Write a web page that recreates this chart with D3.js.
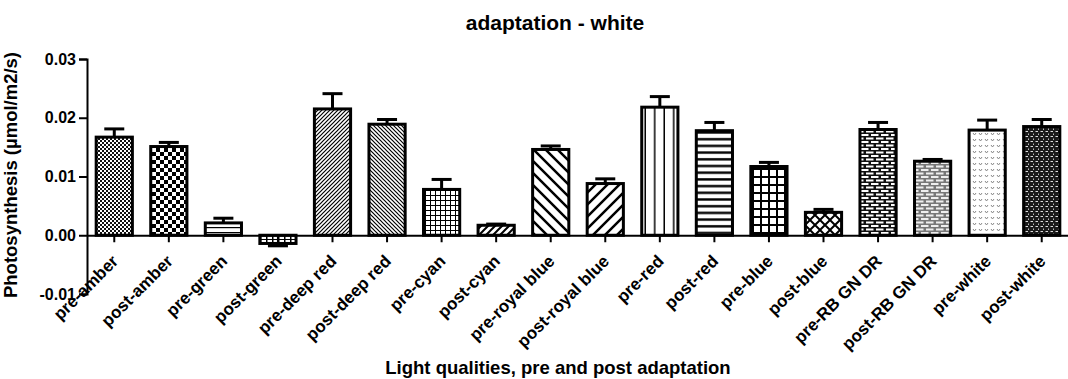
<!DOCTYPE html>
<html>
<head>
<meta charset="utf-8">
<script src="https://cdn.jsdelivr.net/npm/d3@7"></script>
<style>
  html, body { margin: 0; padding: 0; background: #fff; }
  svg { display: block; font-family: "Liberation Sans", Arial, sans-serif; }
</style>
</head>
<body>
<svg id="chart" width="1068" height="379"></svg>
<script>
// Light treatments, pre and post adaptation
const categories = [
  "pre-amber", "post-amber", "pre-green", "post-green", "pre-deep red", "post-deep red",
  "pre-cyan", "post-cyan", "pre-royal blue", "post-royal blue", "pre-red", "post-red",
  "pre-blue", "post-blue", "pre-RB GN DR", "post-RB GN DR", "pre-white", "post-white"
];
// Mean photosynthesis (µmol/m2/s)
const means = [
  0.0167, 0.0151, 0.0021, -0.0014, 0.0215, 0.0189,
  0.0078, 0.0017, 0.0146, 0.0088, 0.0218, 0.0178,
  0.0117, 0.0039, 0.0180, 0.0126, 0.0179, 0.0185
];
// Standard error of the mean
const errors = [
  0.0014, 0.0007, 0.0008, 0.0004, 0.0026, 0.0008,
  0.0017, 0.0002, 0.0006, 0.0008, 0.0018, 0.0014,
  0.0007, 0.0005, 0.0012, 0.0003, 0.0017, 0.0012
];
const yTicks = [-0.01, 0.00, 0.01, 0.02, 0.03];
const yTickLabels = ["-0.01", "0.00", "0.01", "0.02", "0.03"];
const fillNames = [
  "finecheck", "check", "hlines", "smallgrid", "diagfine", "diagfineback",
  "grid5", "diagmed", "diagwideback", "diagwide", "vlines", "hlinesthick",
  "grid8", "diamond", "brickdark", "brickgray", "speckle", "weave"
];

const svg = d3.select("#chart");
const defs = svg.append("defs");

function pattern(id, w, h) {
  return defs.append("pattern").attr("id", id)
    .attr("patternUnits", "userSpaceOnUse").attr("width", w).attr("height", h);
}
function bg(p, w, h, c) { p.append("rect").attr("width", w).attr("height", h).attr("fill", c); }

// fine checker
{ const p = pattern("finecheck", 4, 4); bg(p, 4, 4, "#fff");
  p.append("rect").attr("width", 2).attr("height", 2).attr("fill", "#111");
  p.append("rect").attr("x", 2).attr("y", 2).attr("width", 2).attr("height", 2).attr("fill", "#111"); }
// checkerboard
{ const p = pattern("check", 8, 8); bg(p, 8, 8, "#fff");
  p.append("rect").attr("width", 4).attr("height", 4).attr("fill", "#000");
  p.append("rect").attr("x", 4).attr("y", 4).attr("width", 4).attr("height", 4).attr("fill", "#000"); }
// thin horizontal lines
{ const p = pattern("hlines", 6, 5); bg(p, 6, 5, "#fff");
  p.append("rect").attr("y", 2).attr("width", 6).attr("height", 1.2).attr("fill", "#000"); }
// small grid
{ const p = pattern("smallgrid", 6, 4); bg(p, 6, 4, "#fff");
  p.append("rect").attr("x", 2).attr("width", 1.5).attr("height", 4).attr("fill", "#000");
  p.append("rect").attr("y", 3).attr("width", 6).attr("height", 1).attr("fill", "#000"); }
// diagonal lines
function diag(id, size, sw, back) {
  const p = pattern(id, size, size); bg(p, size, size, "#fff");
  const d = back
    ? `M0,0 L${size},${size} M${-size},0 L${size},${2*size} M0,${-size} L${2*size},${size}`
    : `M0,${size} L${size},0 M${-size},${size} L${size},${-size} M0,${2*size} L${2*size},0`;
  p.append("path").attr("d", d).attr("stroke", "#000").attr("stroke-width", sw);
}
diag("diagfine", 4, 1.2, false);
diag("diagfineback", 4, 1.2, true);
diag("diagmed", 7, 2, false);
diag("diagwideback", 12, 2.5, true);
diag("diagwide", 12, 2.5, false);
// grids
function grid(id, size, sw) {
  const p = pattern(id, size, size); bg(p, size, size, "#fff");
  p.append("rect").attr("width", sw).attr("height", size).attr("fill", "#000");
  p.append("rect").attr("width", size).attr("height", sw).attr("fill", "#000");
}
grid("grid5", 5, 1);
grid("grid8", 8, 2);
// vertical lines
{ const p = pattern("vlines", 9.5, 10); bg(p, 9.5, 10, "#fff");
  p.append("rect").attr("x", 8).attr("width", 3).attr("height", 10).attr("fill", "#000"); }
// thick horizontal lines
{ const p = pattern("hlinesthick", 10, 6.7); bg(p, 10, 6.7, "#fff");
  p.append("rect").attr("y", 4).attr("width", 10).attr("height", 2.4).attr("fill", "#000"); }
// diamond cross-hatch
{ const p = pattern("diamond", 10, 10); bg(p, 10, 10, "#fff");
  p.append("path").attr("d", "M0,0 L10,10 M10,0 L0,10").attr("stroke", "#000").attr("stroke-width", 2); }
// bricks
function brick(id, base, mortar) {
  const p = pattern(id, 10, 7); bg(p, 10, 7, base);
  p.append("rect").attr("x", 1).attr("y", 1).attr("width", 7.5).attr("height", 2).attr("fill", mortar);
  p.append("rect").attr("x", 6).attr("y", 4.5).attr("width", 7.5).attr("height", 2).attr("fill", mortar);
  p.append("rect").attr("x", -4).attr("y", 4.5).attr("width", 7.5).attr("height", 2).attr("fill", mortar);
}
brick("brickdark", "#111", "#fff");
brick("brickgray", "#777", "#eee");
// light speckle
{ const p = pattern("speckle", 6, 6); bg(p, 6, 6, "#fff");
  p.append("path").attr("d", "M1,1 L2.5,3 L4,1").attr("fill", "none").attr("stroke", "#888").attr("stroke-width", 1); }
// dark weave
{ const p = pattern("weave", 5, 5); bg(p, 5, 5, "#1a1a1a");
  p.append("rect").attr("x", 0.5).attr("y", 1).attr("width", 2.5).attr("height", 1).attr("fill", "#ddd");
  p.append("rect").attr("x", 3).attr("y", 3.5).attr("width", 1).attr("height", 1.5).attr("fill", "#bbb"); }

// scales
const x = d3.scaleBand().domain(categories).range([87, 1069]).paddingInner(0.3).paddingOuter(0.15);
const y = d3.scaleLinear().domain([-0.01, 0.03]).range([294, 59]);

const FONT = "Liberation Sans, Arial, sans-serif";

// title
svg.append("text").attr("x", 555).attr("y", 30).attr("text-anchor", "middle")
  .attr("font-size", 21).attr("font-weight", "bold").text("adaptation - white");

// y axis
const yAxis = svg.append("g").attr("transform", "translate(87,0)")
  .call(d3.axisLeft(y).tickValues(yTicks).tickFormat((d, i) => yTickLabels[i]).tickSize(8).tickPadding(3));
yAxis.select(".domain").attr("stroke", "#000").attr("stroke-width", 2);
yAxis.selectAll(".tick line").attr("stroke", "#000").attr("stroke-width", 2);
yAxis.selectAll(".tick text").attr("font-size", 16).attr("font-weight", "bold")
  .attr("font-family", FONT).attr("fill", "#000");

svg.append("text").attr("transform", "translate(17,175) rotate(-90)")
  .attr("text-anchor", "middle").attr("font-size", 18.5).attr("font-weight", "bold")
  .text("Photosynthesis (µmol/m2/s)");

// bars
const bars = svg.append("g");
const bw = x.bandwidth() - 2;
bars.selectAll("rect").data(categories).join("rect")
  .attr("x", d => x(d) + 1)
  .attr("width", bw)
  .attr("y", (d, i) => Math.min(y(means[i]), y(0)))
  .attr("height", (d, i) => Math.abs(y(means[i]) - y(0)))
  .attr("fill", (d, i) => `url(#${fillNames[i]})`)
  .attr("stroke", "#000").attr("stroke-width", 3);

// error bars (one-sided, away from zero)
const eb = svg.append("g").attr("stroke", "#000").attr("stroke-width", 3);
categories.forEach((c, i) => {
  const cx = x(c) + x.bandwidth() / 2;
  const m = means[i];
  const tip = m >= 0 ? m + errors[i] : m - errors[i];
  eb.append("line").attr("x1", cx).attr("x2", cx).attr("y1", y(m)).attr("y2", y(tip));
  eb.append("line").attr("x1", cx - 10).attr("x2", cx + 10).attr("y1", y(tip)).attr("y2", y(tip));
});

// x axis at zero
const xAxis = svg.append("g").attr("transform", `translate(0,${y(0)})`)
  .call(d3.axisBottom(x).tickSize(7).tickSizeOuter(0));
xAxis.select(".domain").attr("stroke", "#000").attr("stroke-width", 2);
xAxis.selectAll(".tick line").attr("stroke", "#000").attr("stroke-width", 2);
xAxis.selectAll(".tick text")
  .attr("font-size", 17).attr("font-weight", "bold")
  .attr("font-family", FONT).attr("fill", "#000")
  .attr("text-anchor", "end").attr("x", 0).attr("y", 0).attr("dy", 0)
  .attr("transform", "translate(5,27) rotate(-45)");

svg.append("text").attr("x", 558).attr("y", 374).attr("text-anchor", "middle")
  .attr("font-size", 18.5).attr("font-weight", "bold")
  .text("Light qualities, pre and post adaptation");
</script>
</body>
</html>
